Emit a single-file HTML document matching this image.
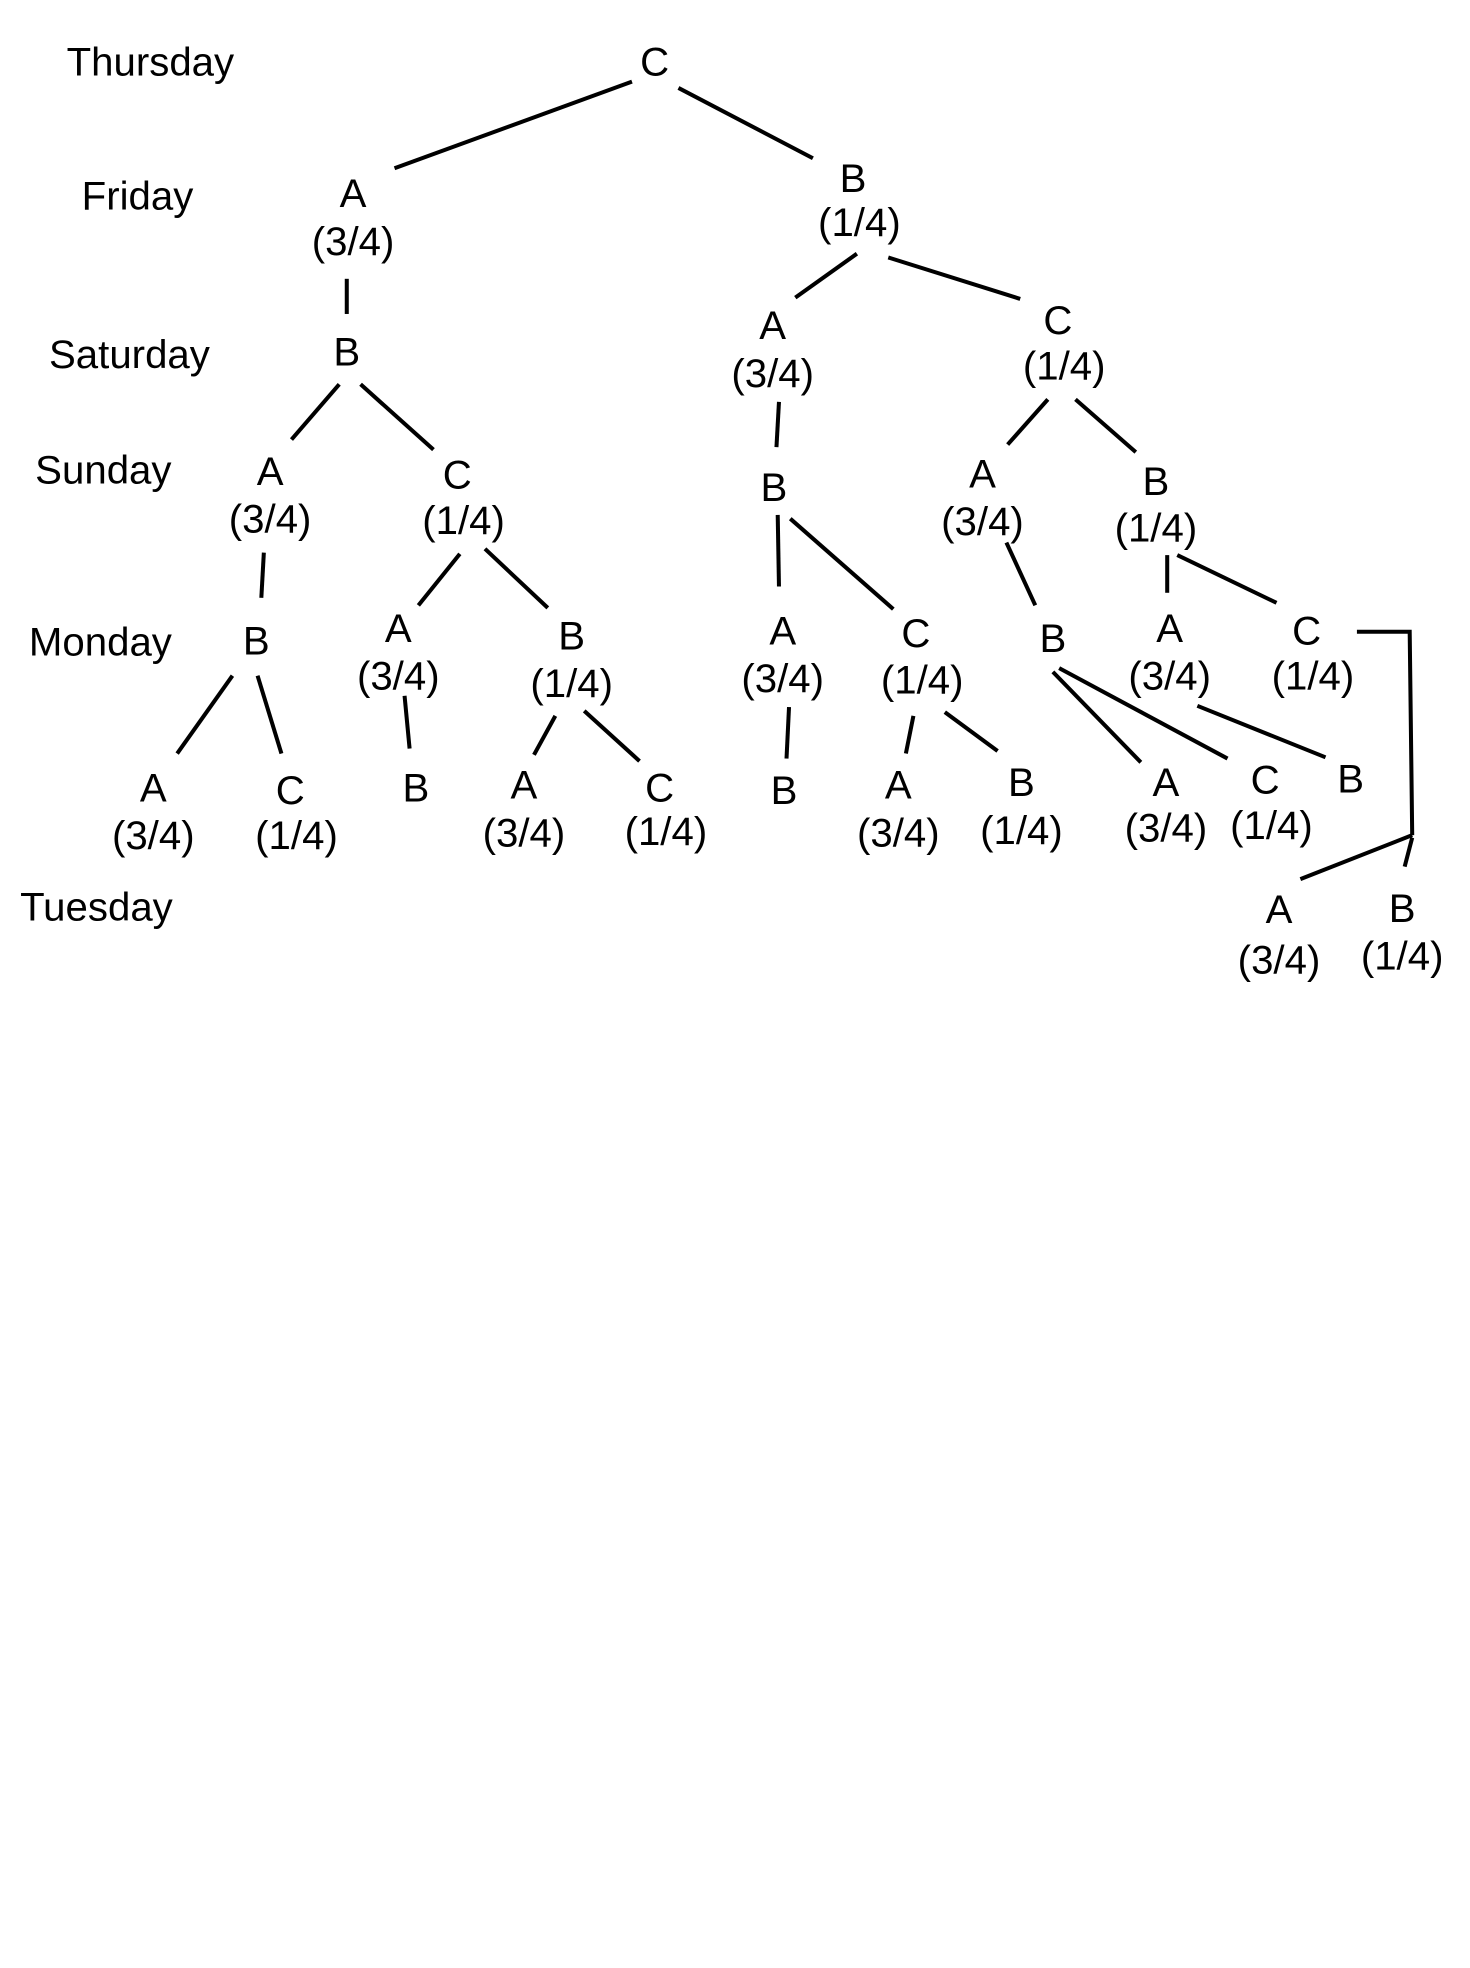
<!DOCTYPE html>
<html><head><meta charset="utf-8"><style>
html,body{margin:0;padding:0;background:#fff;}
svg{display:block;}
text{font-family:"Liberation Sans",sans-serif;font-size:32px;fill:#000;}
.m{text-anchor:middle;}
</style></head><body>
<svg width="1470" height="1968" viewBox="0 0 1170 1567" preserveAspectRatio="none" xmlns="http://www.w3.org/2000/svg">
<rect width="1170" height="1567" fill="#fff"/>
<g stroke="#000" stroke-width="3.2" fill="none" stroke-linecap="butt">
<line x1="503" y1="65" x2="314" y2="134"/>
<line x1="540" y1="70" x2="647" y2="126"/>
<line x1="276" y1="222" x2="276" y2="250"/>
<line x1="682" y1="202" x2="633" y2="237"/>
<line x1="707" y1="205" x2="812" y2="238"/>
<line x1="270" y1="306" x2="232" y2="350"/>
<line x1="287" y1="306" x2="345" y2="358"/>
<line x1="620" y1="320" x2="618" y2="356"/>
<line x1="834" y1="318" x2="802" y2="354"/>
<line x1="856" y1="318" x2="904" y2="360"/>
<line x1="210" y1="440" x2="208" y2="476"/>
<line x1="366" y1="441" x2="333" y2="482"/>
<line x1="386" y1="437" x2="436" y2="484"/>
<line x1="619" y1="410" x2="620" y2="467"/>
<line x1="629" y1="413" x2="711" y2="485"/>
<line x1="801" y1="432" x2="824" y2="482"/>
<line x1="929" y1="442" x2="929" y2="472"/>
<line x1="937" y1="442" x2="1016" y2="480"/>
<line x1="185" y1="538" x2="141" y2="600"/>
<line x1="205" y1="538" x2="224" y2="600"/>
<line x1="322" y1="554" x2="326" y2="596"/>
<line x1="442" y1="570" x2="425" y2="601"/>
<line x1="465" y1="566" x2="509" y2="606"/>
<line x1="628" y1="563" x2="626" y2="604"/>
<line x1="727" y1="570" x2="721" y2="600"/>
<line x1="752" y1="567" x2="794" y2="598"/>
<line x1="838" y1="535" x2="908" y2="607"/>
<line x1="843" y1="532" x2="977" y2="604"/>
<line x1="953" y1="562" x2="1055" y2="603"/>
<polyline points="1080,503 1122,503 1124,665"/>
<line x1="1124" y1="665" x2="1035" y2="700"/>
<line x1="1124" y1="667" x2="1118" y2="690"/>
</g>
<text x="53" y="60">Thursday</text>
<text x="65" y="167">Friday</text>
<text x="39" y="293">Saturday</text>
<text x="28" y="385">Sunday</text>
<text x="23" y="522">Monday</text>
<text x="16" y="733">Tuesday</text>
<g>
<text class="m" x="521" y="60">C</text>
<text class="m" x="281" y="165">A</text><text class="m" x="281" y="203">(3/4)</text>
<text class="m" x="679" y="153">B</text><text class="m" x="684" y="188">(1/4)</text>
<text class="m" x="276" y="291">B</text>
<text class="m" x="615" y="270">A</text><text class="m" x="615" y="308">(3/4)</text>
<text class="m" x="842" y="266">C</text><text class="m" x="847" y="302">(1/4)</text>
<text class="m" x="215" y="386">A</text><text class="m" x="215" y="424">(3/4)</text>
<text class="m" x="364" y="389">C</text><text class="m" x="369" y="425">(1/4)</text>
<text class="m" x="616" y="399">B</text>
<text class="m" x="782" y="388">A</text><text class="m" x="782" y="426">(3/4)</text>
<text class="m" x="920" y="394">B</text><text class="m" x="920" y="431">(1/4)</text>
<text class="m" x="204" y="521">B</text>
<text class="m" x="317" y="511">A</text><text class="m" x="317" y="549">(3/4)</text>
<text class="m" x="455" y="517">B</text><text class="m" x="455" y="555">(1/4)</text>
<text class="m" x="623" y="513">A</text><text class="m" x="623" y="551">(3/4)</text>
<text class="m" x="729" y="515">C</text><text class="m" x="734" y="552">(1/4)</text>
<text class="m" x="838" y="519">B</text>
<text class="m" x="931" y="511">A</text><text class="m" x="931" y="549">(3/4)</text>
<text class="m" x="1040" y="513">C</text><text class="m" x="1045" y="549">(1/4)</text>
<text class="m" x="122" y="638">A</text><text class="m" x="122" y="676">(3/4)</text>
<text class="m" x="231" y="640">C</text><text class="m" x="236" y="676">(1/4)</text>
<text class="m" x="331" y="638">B</text>
<text class="m" x="417" y="636">A</text><text class="m" x="417" y="674">(3/4)</text>
<text class="m" x="525" y="638">C</text><text class="m" x="530" y="673">(1/4)</text>
<text class="m" x="624" y="640">B</text>
<text class="m" x="715" y="636">A</text><text class="m" x="715" y="674">(3/4)</text>
<text class="m" x="813" y="634">B</text><text class="m" x="813" y="672">(1/4)</text>
<text class="m" x="928" y="634">A</text><text class="m" x="928" y="670">(3/4)</text>
<text class="m" x="1007" y="632">C</text><text class="m" x="1012" y="668">(1/4)</text>
<text class="m" x="1075" y="631">B</text>
<text class="m" x="1018" y="735">A</text><text class="m" x="1018" y="775">(3/4)</text>
<text class="m" x="1116" y="734">B</text><text class="m" x="1116" y="772">(1/4)</text>
</g>
</svg>
</body></html>
